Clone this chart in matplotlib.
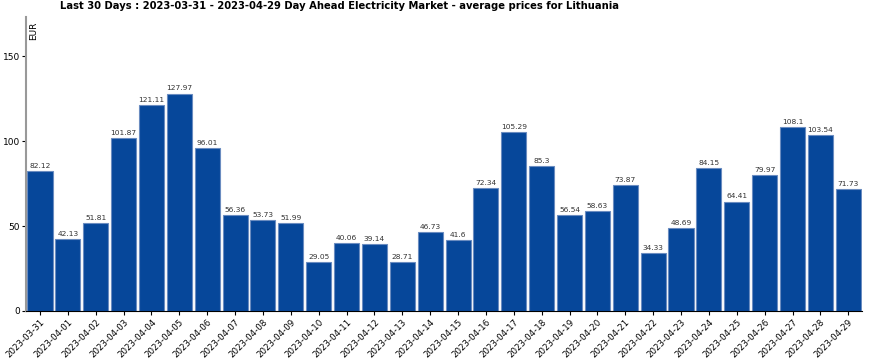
import matplotlib.pyplot as plt
import numpy as np

dates = ['2023-03-31', '2023-04-01', '2023-04-02', '2023-04-03', '2023-04-04', '2023-04-05',
         '2023-04-06', '2023-04-07', '2023-04-08', '2023-04-09', '2023-04-10', '2023-04-11',
         '2023-04-12', '2023-04-13', '2023-04-14', '2023-04-15', '2023-04-16', '2023-04-17',
         '2023-04-18', '2023-04-19', '2023-04-20', '2023-04-21', '2023-04-22', '2023-04-23',
         '2023-04-24', '2023-04-25', '2023-04-26', '2023-04-27', '2023-04-28', '2023-04-29']
prices = [82.12, 42.13, 51.81, 101.87, 121.11, 127.97, 96.01, 56.36, 53.73, 51.99,
          29.05, 40.06, 39.14, 28.71, 46.73, 41.6, 72.34, 105.29, 85.3, 56.54,
          58.63, 73.87, 34.33, 48.69, 84.15, 64.41, 79.97, 108.1, 103.54, 71.73]
yticks = [0, 50, 100, 150]

fig = plt.figure(figsize=(8.71, 3.62), dpi=100)
ax = fig.add_axes([0.0299, 0.141, 0.96, 0.812])

x = np.arange(len(prices))
ax.bar(x, prices, width=0.9, color='#06479a', edgecolor='#6a8cc0', linewidth=0.8)
for i, v in enumerate(prices):
    ax.text(i, v + 1.2, str(v), ha='center', va='bottom', fontsize=5.4, color='#333333')

ax.set_xlim(-0.5, len(prices) - 0.5)
ax.set_ylim(0, 173)
ax.set_yticks(yticks)
ax.set_xticks(x)
ax.set_xticklabels(dates, rotation=45, ha='right', rotation_mode='anchor', fontsize=6.2)
ax.tick_params(axis='y', labelsize=6.5, length=3, pad=1.5)
ax.tick_params(axis='x', length=3, pad=2)

ax.spines['top'].set_visible(False)
ax.spines['right'].set_visible(False)
ax.spines['left'].set_color('#999999')
ax.spines['left'].set_linewidth(1.5)

ax.text(0.004, 0.985, 'EUR', transform=ax.transAxes, rotation=90, ha='left', va='top', fontsize=6.5)
fig.text(0.069, 0.997, 'Last 30 Days : 2023-03-31 - 2023-04-29 Day Ahead Electricity Market - average prices for Lithuania',
         ha='left', va='top', fontsize=7.2, fontweight='bold')

fig.savefig('out.png', dpi=100)
